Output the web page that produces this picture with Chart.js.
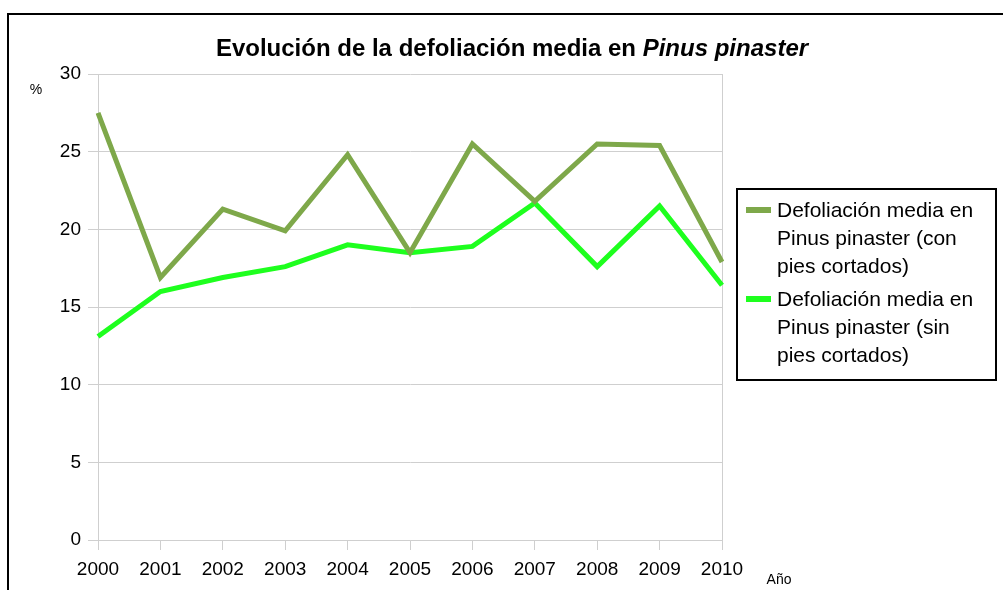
<!DOCTYPE html>
<html>
<head>
<meta charset="utf-8">
<script src="https://cdn.jsdelivr.net/npm/chart.js@4.4.0/dist/chart.umd.min.js"></script>
<style>
  html, body { margin: 0; padding: 0; background: #fff; }
  #wrap { width: 1003px; height: 590px; position: relative; }
</style>
</head>
<body>
<div id="wrap"><canvas id="GraficoDefoliacion" width="1003" height="590"></canvas></div>
<script>
var anios = ['2000', '2001', '2002', '2003', '2004', '2005', '2006', '2007', '2008', '2009', '2010'];
var conPiesCortados = [27.5, 16.9, 21.3, 19.9, 24.8, 18.5, 25.5, 21.8, 25.5, 25.4, 17.9];
var sinPiesCortados = [13.1, 16.0, 16.9, 17.6, 19.0, 18.5, 18.9, 21.7, 17.6, 21.5, 16.4];
var nombresSeries = [
    ['Defoliación media en', 'Pinus pinaster (con', 'pies cortados)'],
    ['Defoliación media en', 'Pinus pinaster (sin', 'pies cortados)']
];
var ticksY = [0, 5, 10, 15, 20, 25, 30];

var fuente = '"Liberation Sans", Arial, sans-serif';
var gris = '#cfcfcf';

// titulo, marco, leyenda y rotulos de ejes
var extras = {
    id: 'extras',
    beforeDraw: function (chart) {
        var ctx = chart.ctx;
        ctx.save();
        ctx.fillStyle = '#fff';
        ctx.fillRect(0, 0, chart.width, chart.height);
        ctx.strokeStyle = '#000';
        ctx.lineWidth = 2;
        ctx.beginPath();
        ctx.moveTo(8, chart.height);
        ctx.lineTo(8, 14);
        ctx.lineTo(chart.width, 14);
        ctx.stroke();
        ctx.restore();
    },
    beforeDatasetsDraw: function (chart) {
        var ctx = chart.ctx;
        var a = chart.chartArea;
        ctx.save();
        ctx.strokeStyle = gris;
        ctx.lineWidth = 1;
        ctx.beginPath();
        ctx.moveTo(Math.round(a.right) + 0.5, a.top);
        ctx.lineTo(Math.round(a.right) + 0.5, a.bottom);
        ctx.stroke();
        ctx.restore();
    },
    afterDraw: function (chart) {
        var ctx = chart.ctx;
        ctx.save();

        // titulo con parte en cursiva
        var t1 = 'Evolución de la defoliación media en ';
        var t2 = 'Pinus pinaster';
        var f1 = 'bold 24px ' + fuente;
        var f2 = 'italic bold 24px ' + fuente;
        ctx.font = f1;
        var w1 = ctx.measureText(t1).width;
        ctx.font = f2;
        var w2 = ctx.measureText(t2).width;
        var x0 = 512 - (w1 + w2) / 2;
        ctx.fillStyle = '#000';
        ctx.textBaseline = 'alphabetic';
        ctx.textAlign = 'left';
        ctx.font = f1;
        ctx.fillText(t1, x0, 56);
        ctx.font = f2;
        ctx.fillText(t2, x0 + w1, 56);

        // rotulos de ejes
        ctx.font = '14px ' + fuente;
        ctx.textAlign = 'center';
        ctx.textBaseline = 'middle';
        ctx.fillText('%', 36, 90);
        ctx.fillText('Año', 779, 580);

        // leyenda
        var lx = 737, ly = 189, lw = 259, lh = 191;
        ctx.strokeStyle = '#000';
        ctx.lineWidth = 2;
        ctx.strokeRect(lx, ly, lw, lh);
        ctx.font = '21px ' + fuente;
        ctx.textAlign = 'left';
        var y = ly + 22;
        chart.data.datasets.forEach(function (ds, i) {
            ctx.strokeStyle = ds.borderColor;
            ctx.lineWidth = 6;
            ctx.beginPath();
            ctx.moveTo(lx + 9, y - 1);
            ctx.lineTo(lx + 34, y - 1);
            ctx.stroke();
            ctx.fillStyle = '#000';
            nombresSeries[i].forEach(function (linea, k) {
                ctx.fillText(linea, lx + 40, y + k * 28);
            });
            y += 89;
        });
        ctx.restore();
    }
};

new Chart(document.getElementById('GraficoDefoliacion'), {
    type: 'line',
    data: {
        labels: anios,
        datasets: [{
            label: nombresSeries[0].join(' '),
            data: conPiesCortados,
            borderColor: '#7ea84a',
            backgroundColor: '#7ea84a',
            borderWidth: 5,
            pointRadius: 0,
            fill: false,
            tension: 0
        }, {
            label: nombresSeries[1].join(' '),
            data: sinPiesCortados,
            borderColor: '#1eff1e',
            backgroundColor: '#1eff1e',
            borderWidth: 5,
            pointRadius: 0,
            fill: false,
            tension: 0
        }]
    },
    plugins: [extras],
    options: {
        responsive: false,
        animation: false,
        layout: {
            padding: { left: 0, top: 74, right: 281, bottom: 10 }
        },
        plugins: {
            legend: { display: false },
            title: { display: false },
            tooltip: { enabled: false }
        },
        scales: {
            x: {
                type: 'category',
                offset: false,
                afterFit: function (scale) { scale.height = 40; },
                grid: {
                    drawOnChartArea: false,
                    color: gris,
                    tickLength: 10
                },
                border: { color: gris },
                ticks: {
                    color: '#000',
                    padding: 8,
                    maxRotation: 0,
                    font: { family: fuente, size: 19 }
                }
            },
            y: {
                min: 0,
                max: 30,
                afterFit: function (scale) { scale.width = 98; },
                afterBuildTicks: function (scale) {
                    scale.ticks = ticksY.map(function (v) { return { value: v }; });
                },
                grid: {
                    color: gris,
                    tickLength: 10
                },
                border: { color: gris },
                ticks: {
                    color: '#000',
                    padding: 7,
                    font: { family: fuente, size: 19 }
                }
            }
        }
    }
});
</script>
</body>
</html>
